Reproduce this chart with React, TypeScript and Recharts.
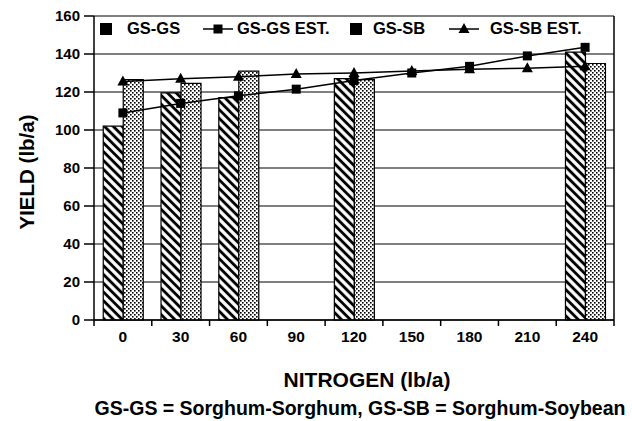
import React from "react";
import {
  ComposedChart,
  Bar,
  Line,
  XAxis,
  YAxis,
  CartesianGrid,
  Legend,
} from "recharts";

const nitrogen = ["0", "30", "60", "90", "120", "150", "180", "210", "240"];
const gsGs = [102, 119.5, 117, null, 127, null, null, null, 141];
const gsSb = [126.5, 124.5, 131, null, 126.5, null, null, null, 135];
const gsGsEst = [109, 114, 118, 121.5, 126, 130, 133.5, 139, 143.5];
const gsSbEst = [125.5, 127, 128, 129.5, 130, 131, 132, 132.5, 133.5];
const yTicks = [0, 20, 40, 60, 80, 100, 120, 140, 160];

const data = nitrogen.map((n, i) => ({
  n,
  gsGs: gsGs[i],
  gsSb: gsSb[i],
  gsGsEst: gsGsEst[i],
  gsSbEst: gsSbEst[i],
}));

const FONT = '"Liberation Sans", Arial, Helvetica, sans-serif';
const W = 632;
const H = 421;
const LEFT = 94;
const RIGHT = 18;
const BW = (W - LEFT - RIGHT) / nitrogen.length;

const square = (props: any) => {
  const { cx, cy, index } = props;
  if (cx == null || cy == null) return <g key={index} />;
  return <rect key={index} x={cx - 4.5} y={cy - 4.5} width={9} height={9} fill="#000" />;
};

const triangle = (props: any) => {
  const { cx, cy, index } = props;
  if (cx == null || cy == null) return <g key={index} />;
  return (
    <path
      key={index}
      d={`M${cx},${cy - 6} L${cx + 5.5},${cy + 4} L${cx - 5.5},${cy + 4} Z`}
      fill="#000"
    />
  );
};

const XTick = (props: any) => {
  const { x, y, payload, index } = props;
  return (
    <g>
      <line x1={x - BW / 2} x2={x - BW / 2} y1={y} y2={y + 6} stroke="#000" strokeWidth={1.5} />
      {index === nitrogen.length - 1 && (
        <line x1={x + BW / 2} x2={x + BW / 2} y1={y} y2={y + 6} stroke="#000" strokeWidth={1.5} />
      )}
      <text
        x={x}
        y={y + 16}
        textAnchor="middle"
        dominantBaseline="central"
        fill="#000"
        fontSize={15.5}
        fontWeight="bold"
        fontFamily={FONT}
      >
        {payload.value}
      </text>
    </g>
  );
};

const YLabel = () => (
  <text
    x={26}
    y={172}
    transform="rotate(-90, 26, 172)"
    textAnchor="middle"
    dominantBaseline="central"
    fill="#000"
    fontSize={20.5}
    fontWeight="bold"
    fontFamily={FONT}
  >
    YIELD (lb/a)
  </text>
);

const XLabel = () => (
  <text
    x={367}
    y={379}
    textAnchor="middle"
    dominantBaseline="central"
    fill="#000"
    fontSize={21}
    fontWeight="bold"
    fontFamily={FONT}
  >
    NITROGEN (lb/a)
  </text>
);

const legendText: React.CSSProperties = {
  position: "absolute",
  top: 19,
  fontSize: 16.5,
  fontWeight: "bold",
  fontFamily: FONT,
  color: "#000",
  whiteSpace: "nowrap",
};

const LineIcon = ({ left, marker }: { left: number; marker: "square" | "triangle" }) => (
  <svg style={{ position: "absolute", left, top: 22 }} width={30} height={14}>
    <line x1={0} x2={30} y1={7} y2={7} stroke="#000" strokeWidth={1.5} />
    {marker === "square" ? (
      <rect x={10.5} y={2.5} width={9} height={9} fill="#000" />
    ) : (
      <path d="M15,1 L20.5,11 L9.5,11 Z" fill="#000" />
    )}
  </svg>
);

const renderLegend = () => (
  <div style={{ position: "relative", width: W, height: 50 }}>
    <div style={{ position: "absolute", left: 100, top: 23, width: 12, height: 12, background: "#000" }} />
    <span style={{ ...legendText, left: 127 }}>GS-GS</span>
    <LineIcon left={203} marker="square" />
    <span style={{ ...legendText, left: 237 }}>GS-GS EST.</span>
    <div style={{ position: "absolute", left: 350, top: 23, width: 12, height: 12, background: "#000" }} />
    <span style={{ ...legendText, left: 373 }}>GS-SB</span>
    <LineIcon left={449} marker="triangle" />
    <span style={{ ...legendText, left: 490 }}>GS-SB EST.</span>
  </div>
);

export default function App() {
  return (
    <div style={{ position: "absolute", left: 0, top: 0, width: W, height: H, background: "#fff" }}>
      <ComposedChart
        width={W}
        height={H}
        data={data}
        margin={{ top: 16, right: 0, bottom: 41, left: 0 }}
        barCategoryGap="16%"
        barGap={0}
      >
        <defs>
          <pattern id="hatch" patternUnits="userSpaceOnUse" width={6.2} height={6.2} patternTransform="rotate(-45)">
            <rect width={6.2} height={6.2} fill="#fff" />
            <line x1={3.1} x2={3.1} y1={0} y2={6.2} stroke="#000" strokeWidth={2.9} />
          </pattern>
          <pattern id="dots" patternUnits="userSpaceOnUse" width={4} height={4}>
            <rect width={4} height={4} fill="#fff" />
            <rect x={0} y={0} width={1.6} height={1.6} fill="#000" />
            <rect x={2} y={2} width={1.6} height={1.6} fill="#000" />
          </pattern>
        </defs>
        <CartesianGrid vertical={false} stroke="#000" strokeWidth={1} />
        <XAxis
          dataKey="n"
          interval={0}
          height={60}
          tickLine={false}
          tickSize={0}
          tickMargin={0}
          axisLine={{ stroke: "#000", strokeWidth: 1.5 }}
          tick={<XTick />}
          label={<XLabel />}
        />
        <YAxis
          width={LEFT}
          domain={[0, 160]}
          ticks={yTicks}
          interval={0}
          tickSize={10}
          tickMargin={4}
          axisLine={{ stroke: "#000", strokeWidth: 1.5 }}
          tickLine={{ stroke: "#000", strokeWidth: 1.5 }}
          tick={{ fill: "#000", fontSize: 15, fontWeight: "bold", fontFamily: FONT }}
          label={<YLabel />}
        />
        <YAxis
          yAxisId="r"
          orientation="right"
          width={RIGHT}
          domain={[0, 160]}
          tick={false}
          tickLine={false}
          axisLine={{ stroke: "#000", strokeWidth: 1.5 }}
        />
        <Legend
          layout="horizontal"
          verticalAlign="middle"
          align="center"
          wrapperStyle={{ position: "absolute", left: 0, top: 0, width: W, height: 50 }}
          content={renderLegend}
        />
        <Bar dataKey="gsGs" name="GS-GS" fill="url(#hatch)" stroke="#000" strokeWidth={1.2} isAnimationActive={false} />
        <Bar dataKey="gsSb" name="GS-SB" fill="url(#dots)" stroke="#000" strokeWidth={1.2} isAnimationActive={false} />
        <Line
          dataKey="gsGsEst"
          name="GS-GS EST."
          type="linear"
          stroke="#000"
          strokeWidth={1.5}
          dot={square}
          activeDot={false}
          isAnimationActive={false}
        />
        <Line
          dataKey="gsSbEst"
          name="GS-SB EST."
          type="linear"
          stroke="#000"
          strokeWidth={1.5}
          dot={triangle}
          activeDot={false}
          isAnimationActive={false}
        />
      </ComposedChart>
      <div
        style={{
          position: "absolute",
          left: 0,
          width: 720,
          top: 397,
          textAlign: "center",
          fontSize: 19.5,
          fontWeight: "bold",
          fontFamily: FONT,
          color: "#000",
          whiteSpace: "nowrap",
        }}
      >
        GS-GS = Sorghum-Sorghum, GS-SB = Sorghum-Soybean
      </div>
    </div>
  );
}
